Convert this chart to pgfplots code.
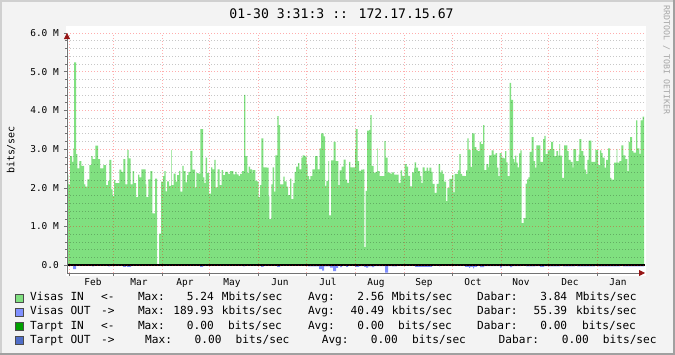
\documentclass[border=0pt]{standalone}
\usepackage{fontspec}
\setmainfont{DejaVu Sans}
\newfontfamily\mono{DejaVu Sans Mono}
\usepackage{pgfplots}
\pgfplotsset{compat=1.18}
\usetikzlibrary{arrows.meta}
\definecolor{bgc}{RGB}{243,243,243}
\definecolor{inarea}{RGB}{128,224,128}
\definecolor{outarea}{RGB}{128,144,255}
\definecolor{tarin}{RGB}{0,160,0}
\definecolor{tarout}{RGB}{80,110,200}
\definecolor{arrowred}{RGB}{150,20,20}
\definecolor{frameA}{RGB}{208,208,208}
\definecolor{frameB}{RGB}{160,160,160}
\newcommand\legfont{\mono\fontsize{11.2}{13}\selectfont}
\newcommand\Lt[3]{\node[anchor=base west,inner sep=0pt,font=\legfont] at (#1bp,#2bp) {#3};}
\newcommand\Rt[3]{\node[anchor=base east,inner sep=0pt,font=\legfont] at (#1bp,#2bp) {#3};}
\begin{document}
\begin{tikzpicture}
\fill[bgc] (0,0) rectangle (675bp,355bp);
\fill[frameA] (0,353bp) rectangle (675bp,355bp);
\fill[frameA] (0,0) rectangle (2bp,355bp);
\fill[frameB] (0,0) rectangle (675bp,2bp);
\fill[frameB] (673bp,0) rectangle (675bp,355bp);
\fill[white] (66bp,79bp) rectangle (646bp,329bp);
\begin{axis}[
  at={(67bp,82bp)}, anchor=south west, scale only axis,
  width=578bp, height=240bp,
  xmin=67, xmax=645, ymin=-0.2, ymax=6,
  axis on top,
  axis x line=bottom, axis y line=left,
  axis line style={draw=black!55, line width=0.8bp},
  x axis line style={-{Triangle[color=arrowred,length=6bp,width=6bp]}},
  y axis line style={-{Triangle[color=arrowred,length=6bp,width=6bp]}},
  xtick={69,113.3,162.3,209.7,258.3,306.3,355.3,404.3,452.3,501.3,548.3,597.3},
  xticklabels={},
  extra x ticks={93,139,185,232,280,328,376,424,473,521,570,618},
  extra x tick labels={Feb,Mar,Apr,May,Jun,Jul,Aug,Sep,Oct,Nov,Dec,Jan},
  extra x tick style={grid=none, major tick length=0pt},
  xticklabel style={font=\mono\fontsize{9.5}{11}\selectfont, anchor=north, inner sep=0pt, yshift=-5bp},
  ytick={0,1,2,3,4,5,6},
  yticklabels={0.0,1.0 M,2.0 M,3.0 M,4.0 M,5.0 M,6.0 M},
  yticklabel style={font=\mono\fontsize{9.5}{11}\selectfont, anchor=east, inner sep=0pt, xshift=-5bp},
  minor y tick num=4,
  grid=both,
  major grid style={draw=red, opacity=0.32, dash pattern=on 1bp off 2bp, line width=0.8bp},
  minor grid style={draw=black, opacity=0.22, dash pattern=on 1bp off 2bp, line width=0.8bp},
  tick align=outside,
  major tick length=3bp, minor tick length=2bp,
  tick style={draw=black!55, line width=0.6bp},
  clip=true,
]
\addplot[const plot mark left, draw=none, fill=inarea] coordinates {
(67.3,2.34) (68.3,2.09) (70,2.82) (72,2.67) (73.3,3.02) (74,5.24) (76,2.87) (77.3,2.50) (79.3,2.69) (81.3,2.57) (84,2.09) (85.3,2.03) (87.3,2.22) (89.3,2.59) (91.3,2.82) (92.7,2.74) (95.3,3.09) (98,2.74) (100,2.50) (103.3,2.59) (106,2.07) (108,2.18) (109.3,2.72) (111.3,1.96) (112.7,1.79) (114,2.20) (115.3,2.12) (119.3,2.47) (121.3,2.41) (123.3,2.74) (125.3,2.09) (127.3,2.98) (128.7,2.76) (130.7,2.09) (132.7,2.43) (134,2.12) (136,1.76) (138,2.34) (139.3,2.27) (141.3,2.48)
(143,2.48) (145.7,2.09) (146.3,1.76) (148.3,2.22) (150.3,2.43) (152.3,1.34) (155,2.24) (157,0.0) (159,0.82) (161,2.16) (163,2.30) (164.3,2.43) (165.7,1.91) (167,2.17) (169,2.05) (171,2.98) (171.7,2.07) (173.7,2.37) (175.7,2.16) (177,2.33) (179,2.44) (180.3,1.90) (182.3,2.57) (183.7,2.43) (185.7,2.14) (187,2.33) (188.3,2.41) (190.3,2.95) (192.3,2.47) (195,2.01) (196.3,2.38) (198.3,2.37) (200.3,3.52) (203,2.27) (204.3,2.12) (205.7,2.78) (207,2.38) (209,1.85) (211,2.53) (212.3,2.48) (214.3,2.72) (215.7,2.01) (217.7,2.48) (219.7,2.07) (221.7,2.46) (223,2.33) (225,2.41)
(226,2.41) (228,2.36) (230,2.43) (233.3,2.35) (235.3,2.41) (236.7,2.35) (238.7,2.31) (240,2.36) (242,2.43) (244,4.40) (245.3,2.82) (247.3,2.38) (248.7,2.55) (250,2.48) (252,2.38) (252.7,2.46) (255.3,2.18) (257.3,2.16) (258.7,1.76) (260,2.07) (261.3,3.28) (263.3,2.53) (266.7,2.52) (268.7,1.78) (269.3,1.19) (271.3,2.09) (272.7,2.53) (274,1.90) (275.3,2.84) (277.3,3.85) (278.7,3.62) (280,2.09) (283.3,2.29) (284.7,2.17) (286.7,2.03) (288,1.81) (290,2.24) (291.3,1.71) (293.3,2.12) (294.7,2.41) (296,2.55) (298,2.64) (299.3,2.48) (301.3,2.78) (302.7,2.84) (304.7,2.81) (306.7,2.60) (307.5,2.30)
(309,2.22) (310.3,2.30) (312.3,2.48) (315,2.82) (317.7,2.48) (319.7,3.02) (321,3.41) (323.7,3.33) (325,2.05) (326.3,2.18) (328.3,2.69) (329,1.29) (331,2.71) (333.7,3.19) (335.7,2.69) (338.3,2.07) (339.7,2.45) (341.7,2.55) (343.7,2.73) (345.7,2.21) (347,2.13) (349,2.67) (350.3,2.53) (355,3.00) (355.7,3.52) (357.7,2.69) (359,2.44) (361,2.47) (363,2.48) (364.3,0.47) (365.7,1.92) (367,3.48) (369,3.50) (370.3,3.88) (371.7,2.57) (373.7,2.39) (375.7,2.41) (377,3.02) (377.7,2.43) (379.7,2.30) (384.3,3.21) (385.7,2.78) (387.7,2.39) (390.3,2.37)
(392,2.40) (394,2.34) (396,2.34) (398.7,2.13) (400.7,2.45) (402,2.31) (404,2.26) (404.7,2.61) (406.7,2.55) (408,2.31) (410,2.04) (412,2.40) (414,2.50) (414.7,2.66) (416,2.52) (418,2.43) (420,2.30) (421.3,2.12) (422.7,2.53) (424.7,2.44) (426.7,2.52) (428,2.44) (429.3,2.52) (431.3,2.41) (432.7,2.10) (434.7,1.87) (436.7,2.10) (438.7,2.61) (440,2.40) (441.3,2.45) (442.7,2.36) (444,2.16) (446,1.66) (447.3,2.00) (449.3,2.23) (450.7,2.23) (452,2.33) (453.3,1.88) (454.7,2.36) (456,2.36) (458,2.45) (459.3,2.87) (460.7,2.36) (462,2.31) (464.7,2.30) (466,2.45) (467.3,3.28) (468.7,2.98) (470.7,2.54) (472,3.41) (473.3,3.41) (474.7,3.05)
(475,3.05) (476.3,2.98) (477.7,2.95) (479.7,3.19) (481,3.13) (483,3.62) (484.3,2.46) (486.3,2.61) (488.3,2.53) (489,2.84) (491.7,2.97) (493.7,2.86) (495.7,2.90) (497,2.52) (498.3,2.30) (499.7,2.90) (501.7,2.78) (503.7,2.76) (505,2.95) (506.3,2.66) (507.7,2.30) (509.7,4.71) (511,4.27) (513,2.74) (514.3,2.66) (515,2.83) (516.3,2.65) (517.7,2.53) (519,2.89) (520.3,2.97) (521.7,1.09) (523.7,1.22) (525.7,2.11) (527,2.22) (528.3,2.27) (529.7,2.93) (531.7,3.31) (533.7,2.69) (535,2.52) (536.3,3.10) (538.3,3.10) (540.3,2.67) (541.7,2.67) (543,3.26) (544.3,3.34) (545.7,2.87) (547.7,2.97) (549.7,3.00) (551,3.19) (553,3.00) (554.3,2.82) (556.3,2.95)
(558,2.83) (559.3,3.13) (560,2.83) (562,2.26) (564,3.10) (567.3,2.95) (568.7,2.72) (570.7,2.67) (572.7,2.52) (573.3,3.00) (576,2.69) (578.7,2.86) (579.3,3.26) (581.3,2.95) (583.3,2.83) (584.7,2.47) (586,2.36) (587.3,2.72) (588.7,3.22) (591.3,2.67) (595.3,2.98) (598,2.59) (600,2.97) (601.3,2.90) (602.7,2.78) (604.7,2.52) (606,2.72) (608,3.02) (610,2.26) (611.3,2.21) (614,2.65) (616.7,3.00) (617.3,2.65) (619.3,2.69) (621.3,3.10) (623.3,2.84) (625.3,2.74) (627.3,2.43) (628.7,3.19) (630,3.31) (632,2.95) (633.3,2.91) (636,3.74) (637.3,3.02) (639.3,2.88) (640.7,3.74) (642.7,3.84) (644,3.84)
} \closedcycle;
\addplot[const plot mark left, draw=none, fill=outarea] coordinates {
(67,-0.01) (73,-0.10) (76,-0.01) (92,-0.03) (94,-0.01) (108,-0.03) (110,-0.01) (123,-0.04) (126,-0.01) (127,-0.04) (131,-0.01) (200,-0.04) (203,-0.01) (243,-0.03) (245,-0.01) (261,-0.04) (263.5,-0.01) (277,-0.04) (280,-0.01) (308,-0.03) (319,-0.10) (322,-0.14) (324,-0.03) (330,-0.06) (333,-0.15) (336,-0.07) (338,-0.01) (340,-0.05) (342,-0.01) (346,-0.04) (348,-0.01) (355,-0.04) (359,-0.02) (364,-0.04) (366,-0.06) (368,-0.03) (372,-0.05) (374,-0.02) (385,-0.19) (388,-0.02) (392,-0.03) (397,-0.01) (415,-0.04) (432,-0.01) (439,-0.03) (440,-0.01) (465,-0.04) (469,-0.07) (470,-0.04) (473,-0.08) (474,-0.04) (477,-0.01) (480,-0.05) (484,-0.02) (500,-0.06) (501.5,-0.02) (510,-0.05) (512,-0.02) (521,0) (526,-0.03) (535,-0.02) (540,-0.04) (544,-0.02) (548,-0.03) (558,-0.03) (560,-0.01) (563,-0.03) (575,-0.01) (577,-0.03) (595,-0.01) (598,-0.03) (620,-0.01) (623,-0.03) (644,-0.03)
} \closedcycle;
\addplot[black, line width=1.8bp] coordinates {(67,0) (645,0)};
\end{axis}
% title and side texts
\node[anchor=base, inner sep=0pt, font=\mono\fontsize{13.2}{15}\selectfont] at (341.5bp,336.7bp) {01-30 3:31:3 :: 172.17.15.67};
\node[rotate=90, inner sep=0pt, font=\mono\fontsize{10}{12}\selectfont] at (11bp,205bp) {bits/sec};
\node[rotate=-90, anchor=west, inner sep=0pt, text=black!35, font=\mono\fontsize{8.3}{10}\selectfont] at (666.5bp,350bp) {RRDTOOL / TOBI OETIKER};
% legend
\foreach \yy/\cc in {54/inarea,40/outarea,26/tarin,12/tarout}{
  \filldraw[fill=\cc, draw=black!70, line width=0.6bp] (15bp,\yy bp-1bp) rectangle (23bp,\yy bp+7bp);
}
\Lt{30}{54}{Visas IN}\Lt{101}{54}{<-}\Lt{137.8}{54}{Max:}\Rt{214}{54}{5.24}\Lt{221.7}{54}{Mbits/sec}\Lt{307.8}{54}{Avg:}\Rt{384.4}{54}{2.56}\Lt{391.7}{54}{Mbits/sec}\Lt{477}{54}{Dabar:}\Rt{567.4}{54}{3.84}\Lt{576}{54}{Mbits/sec}
\Lt{30}{40}{Visas OUT}\Lt{101}{40}{->}\Lt{137.8}{40}{Max:}\Rt{214}{40}{189.93}\Lt{221.7}{40}{kbits/sec}\Lt{307.8}{40}{Avg:}\Rt{384.4}{40}{40.49}\Lt{391.7}{40}{kbits/sec}\Lt{477}{40}{Dabar:}\Rt{567.4}{40}{55.39}\Lt{576}{40}{kbits/sec}
\Lt{30}{26}{Tarpt IN}\Lt{101}{26}{<-}\Lt{137.8}{26}{Max:}\Rt{214}{26}{0.00}\Lt{228}{26}{bits/sec}\Lt{307.8}{26}{Avg:}\Rt{384.4}{26}{0.00}\Lt{398}{26}{bits/sec}\Lt{477}{26}{Dabar:}\Rt{567.4}{26}{0.00}\Lt{582}{26}{bits/sec}
\Lt{30}{12}{Tarpt OUT}\Lt{101}{12}{->}\Lt{145}{12}{Max:}\Rt{221.7}{12}{0.00}\Lt{235.5}{12}{bits/sec}\Lt{321.6}{12}{Avg:}\Rt{398}{12}{0.00}\Lt{412}{12}{bits/sec}\Lt{498.5}{12}{Dabar:}\Rt{589}{12}{0.00}\Lt{602.7}{12}{bits/sec}
\end{tikzpicture}
\end{document}
